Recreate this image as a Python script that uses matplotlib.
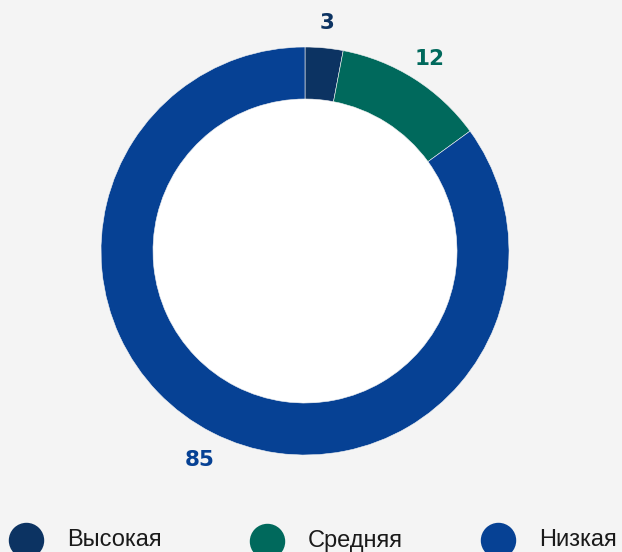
import matplotlib.pyplot as plt

# data
categories = ['Высокая', 'Средняя', 'Низкая']
values = [3, 12, 85]
colors = ['#0c3362', '#00695c', '#064194']

W, H = 622, 552
fig = plt.figure(figsize=(W / 100, H / 100), dpi=100)
fig.patch.set_facecolor('#f4f4f4')
ax = fig.add_axes([0, 0, 1, 1])
ax.set_facecolor('#f4f4f4')

cx, cy, R = 305, H - 251, 204
wedges, texts = ax.pie(values, colors=colors, startangle=90, counterclock=False,
                       center=(cx, cy), radius=R, labels=[str(v) for v in values],
                       labeldistance=1.135,
                       wedgeprops=dict(width=52, edgecolor='#f4f4f4', linewidth=0.4))
for t, c in zip(texts, colors):
    x, y = t.get_position()
    t.set_position((x, y - 3))
    t.set_color(c)
    t.set_fontsize(15.5)
    t.set_fontweight('heavy')
    t.set_fontfamily('DejaVu Sans')
    t.set_ha('center')
    t.set_va('center')
# white hole
ax.add_patch(plt.Circle((cx, cy), R - 52, color='white', zorder=0.5))

# legend
leg_x = [26, 267, 498]
leg_dy = [0, 1, 0]
for x, dy, name, c in zip(leg_x, leg_dy, categories, colors):
    ax.scatter([x], [H - 540 - dy], s=600, color=c, zorder=3, clip_on=False)
    ax.text(x + 41, H - 546 - dy, name, fontsize=17, family='Liberation Sans',
            color='#1a1a1a', ha='left', va='baseline')

ax.set_xlim(0, W)
ax.set_ylim(0, H)
ax.set_aspect('equal')
ax.axis('off')
fig.savefig('out.png', dpi=100, facecolor=fig.get_facecolor())
